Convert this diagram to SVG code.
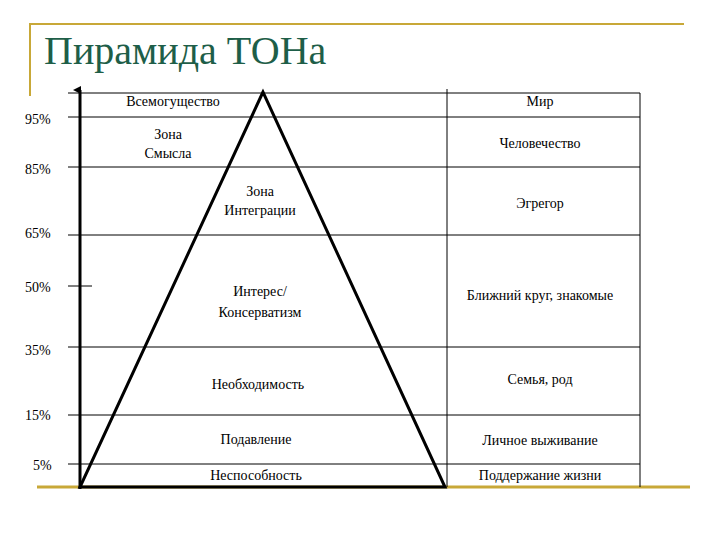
<svg xmlns="http://www.w3.org/2000/svg" width="720" height="540" viewBox="0 0 720 540">
<style>
.t{font-family:"Liberation Serif","Times New Roman","DejaVu Serif",serif;font-size:14px;fill:#000;text-anchor:middle}
.p{font-family:"Liberation Serif","Times New Roman","DejaVu Serif",serif;font-size:14px;fill:#000}
.h{font-family:"Liberation Serif","Times New Roman","DejaVu Serif",serif;font-size:40px;fill:#1e5e48}
.g{stroke:#000;stroke-width:1;fill:none}
</style>
<defs><marker id="ar" markerWidth="8" markerHeight="8" refX="4" refY="7" orient="auto" markerUnits="userSpaceOnUse"><path d="M0,8 L4,0 L8,8 Z" fill="#000"/></marker></defs>
<rect width="720" height="540" fill="#fff"/>
<g id="frame">
<line x1="30" y1="24" x2="684" y2="24" stroke="#c8a838" stroke-width="2"/>
<line x1="30" y1="23" x2="30" y2="96" stroke="#c8a838" stroke-width="2"/>
<line x1="37" y1="487" x2="690" y2="487" stroke="#c8a838" stroke-width="3"/>
<text class="h" x="44" y="64">Пирамида ТОНа</text>
</g>
<g id="grid" class="g">
<line x1="68" y1="93" x2="640" y2="93"/>
<line x1="68" y1="117" x2="640" y2="117"/>
<line x1="68" y1="167" x2="640" y2="167"/>
<line x1="68" y1="235" x2="640" y2="235"/>
<line x1="68" y1="286" x2="92" y2="286"/>
<line x1="68" y1="347" x2="640" y2="347"/>
<line x1="68" y1="415" x2="640" y2="415"/>
<line x1="68" y1="464" x2="640" y2="464"/>
<line x1="447" y1="89" x2="447" y2="487"/>
<line x1="640" y1="93" x2="640" y2="487"/>
</g>
<g id="connectors">
<line x1="80" y1="489" x2="80" y2="90" stroke="#000" stroke-width="3" marker-end="url(#ar)"/>
<polygon points="263,92 80,487 445,487" fill="none" stroke="#000" stroke-width="3"/>
</g>
<g id="axis">
<text class="p" x="25" y="124">95%</text>
<text class="p" x="25" y="174">85%</text>
<text class="p" x="25" y="238">65%</text>
<text class="p" x="25" y="292">50%</text>
<text class="p" x="25" y="355">35%</text>
<text class="p" x="25" y="420">15%</text>
<text class="p" x="33" y="470">5%</text>
</g>
<g id="left">
<text class="t" x="173" y="106">Всемогущество</text>
<text class="t" x="168" y="139">Зона</text>
<text class="t" x="168" y="158">Смысла</text>
<text class="t" x="260" y="196">Зона</text>
<text class="t" x="260" y="215">Интеграции</text>
<text class="t" x="260" y="296">Интерес/</text>
<text class="t" x="260" y="317">Консерватизм</text>
<text class="t" x="258" y="389">Необходимость</text>
<text class="t" x="256" y="444">Подавление</text>
<text class="t" x="256" y="480">Неспособность</text>
</g>
<g id="right">
<text class="t" x="540" y="106">Мир</text>
<text class="t" x="540" y="148">Человечество</text>
<text class="t" x="540" y="208">Эгрегор</text>
<text class="t" x="540" y="300">Ближний круг, знакомые</text>
<text class="t" x="540" y="384">Семья, род</text>
<text class="t" x="540" y="445">Личное  выживание</text>
<text class="t" x="540" y="480">Поддержание жизни</text>
</g>
</svg>
